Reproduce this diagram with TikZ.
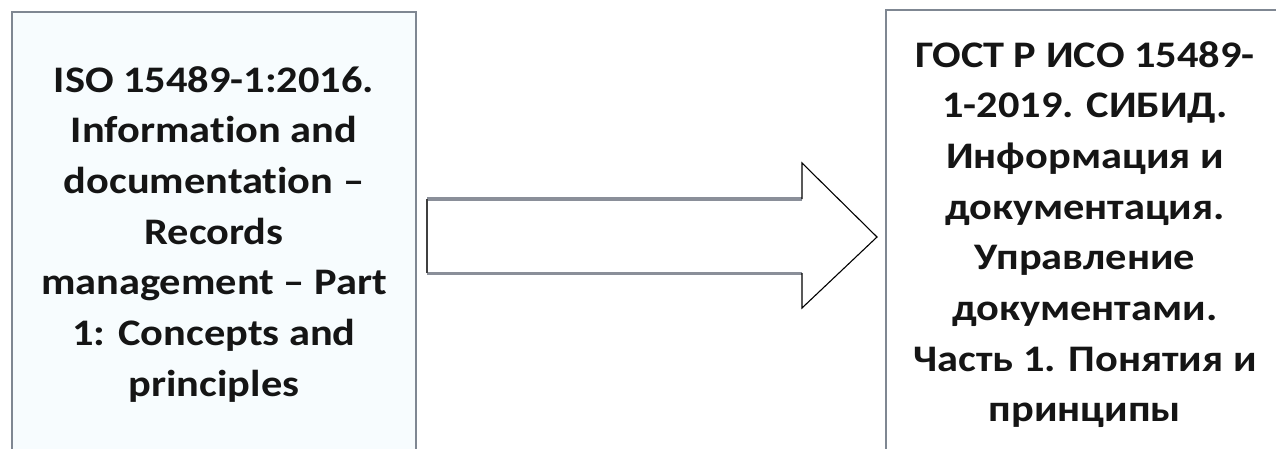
\documentclass[tikz,border=0pt]{standalone}
\usepackage{fontspec}
\setmainfont{Carlito}[FakeStretch=1.13, Ligatures=NoCommon]
\definecolor{boxline}{HTML}{7F8792}
\definecolor{boxfill}{HTML}{F7FCFE}
\definecolor{shaftgray}{HTML}{8A8F99}
\definecolor{inkc}{HTML}{151515}
\tikzset{
  docbox/.style={draw=boxline, line width=2pt, fill=boxfill, rectangle, inner sep=0pt, anchor=north west},
  doctext/.style={align=center, inner sep=0pt, anchor=north, text=inkc, font=\fontsize{37.5}{50.7}\selectfont\bfseries},
  shaftline/.style={draw=shaftgray, line width=3pt},
  shaftend/.style={draw=black!75, line width=1.8pt},
  headline/.style={draw=black, line width=1.1pt, line join=miter}
}
\begin{document}
\begin{tikzpicture}[x=1pt,y=-1pt]
\useasboundingbox (0,0) rectangle (1276,449);
\fill[white] (0,0) rectangle (1276,449);
\node[docbox, minimum width=404pt, minimum height=480pt] (isobox) at (11,11) {};
\node[docbox, fill=white, minimum width=420pt, minimum height=480pt] (gostbox) at (885,9) {};
\node[doctext] (isotext) at (214,66) {ISO 15489-1:2016.\\Information and\\documentation –\\Records\\management – Part\\1: Concepts and\\principles};
\node[doctext] (gosttext) at (1085,41) {ГОСТ Р ИСО 15489-\\1-2019. СИБИД.\\Информация и\\документация.\\Управление\\документами.\\Часть 1. Понятия и\\принципы};
\coordinate (s1) at (427,199);
\coordinate (s2) at (427,273);
\coordinate (h1) at (802,199);
\coordinate (h2) at (802,163);
\coordinate (tip) at (877,237);
\coordinate (h3) at (802,308);
\coordinate (h4) at (802,273);
\fill[white] (s1) -- (h1) -- (h2) -- (tip) -- (h3) -- (h4) -- (s2) -- cycle;
\draw[shaftline] (s1) -- (h1);
\draw[shaftline] (s2) -- (h4);
\draw[shaftend] (s1) -- (s2);
\draw[headline] (h1) -- (h2) -- (tip) -- (h3) -- (h4);
\end{tikzpicture}
\end{document}
